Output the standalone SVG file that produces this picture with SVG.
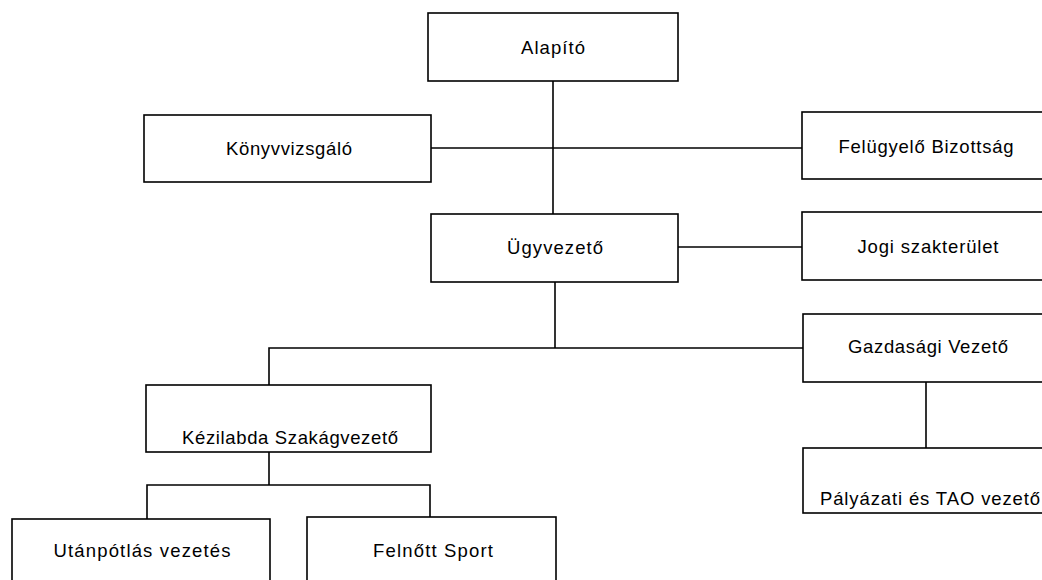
<svg xmlns="http://www.w3.org/2000/svg" width="1042" height="580" viewBox="0 0 1042 580">
<style>
.box{fill:#fff;stroke:#000;stroke-width:1.6}
.ln{fill:none;stroke:#000;stroke-width:1.6}
.t{font-family:"Liberation Sans",Arial,sans-serif;font-size:18.5px;fill:#000;text-anchor:middle}
</style>
<rect width="1042" height="580" fill="#fff"/>
<g id="connectors">
<line class="ln" x1="553" y1="81" x2="553" y2="214"/>
<line class="ln" x1="431" y1="148" x2="802" y2="148"/>
<line class="ln" x1="678" y1="247" x2="802" y2="247"/>
<line class="ln" x1="555" y1="282" x2="555" y2="348"/>
<polyline class="ln" points="269,385 269,348 803,348"/>
<line class="ln" x1="926" y1="382" x2="926" y2="448"/>
<line class="ln" x1="269" y1="452" x2="269" y2="485"/>
<polyline class="ln" points="147,519 147,485 430,485 430,517"/>
</g>
<g id="alapito"><rect class="box" x="428" y="13" width="250" height="68"/><text class="t" x="553" y="54" textLength="64" lengthAdjust="spacing">Alapító</text></g>
<g id="konyvvizsgalo"><rect class="box" x="144" y="115" width="287" height="67"/><text class="t" x="289" y="155" textLength="126" lengthAdjust="spacing">Könyvvizsgáló</text></g>
<g id="felugyelo"><rect class="box" x="802" y="112" width="245" height="67"/><text class="t" x="926" y="153" textLength="175" lengthAdjust="spacing">Felügyelő Bizottság</text></g>
<g id="ugyvezeto"><rect class="box" x="431" y="214" width="247" height="68"/><text class="t" x="555" y="254" textLength="96" lengthAdjust="spacing">Ügyvezető</text></g>
<g id="jogi"><rect class="box" x="802" y="212" width="245" height="68"/><text class="t" x="928" y="253" textLength="141" lengthAdjust="spacing">Jogi szakterület</text></g>
<g id="gazdasagi"><rect class="box" x="803" y="314" width="244" height="68"/><text class="t" x="928" y="353" textLength="160" lengthAdjust="spacing">Gazdasági Vezető</text></g>
<g id="kezilabda"><rect class="box" x="146" y="385" width="285" height="67"/><text class="t" x="290" y="444" textLength="216" lengthAdjust="spacing">Kézilabda Szakágvezető</text></g>
<g id="palyazati"><rect class="box" x="803" y="448" width="244" height="65"/><text class="t" x="930" y="505" textLength="220" lengthAdjust="spacing">Pályázati és TAO vezető</text></g>
<g id="utanpotlas"><rect class="box" x="12" y="519" width="258" height="70"/><text class="t" x="142" y="557" textLength="177" lengthAdjust="spacing">Utánpótlás vezetés</text></g>
<g id="felnott"><rect class="box" x="307" y="517" width="249" height="72"/><text class="t" x="433" y="557" textLength="120" lengthAdjust="spacing">Felnőtt Sport</text></g>
</svg>
